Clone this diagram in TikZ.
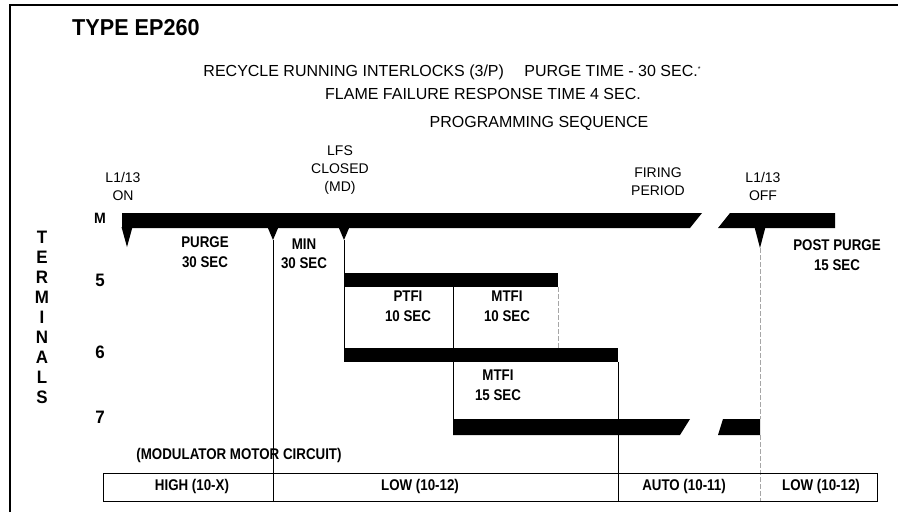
\documentclass[tikz,border=0pt]{standalone}
\usepackage{fontspec}
\setmainfont{Liberation Sans}
\newfontfamily\narrowfont{Liberation Sans}[FakeStretch=0.94]
\newfontfamily\condfont{Liberation Sans}[FakeStretch=0.86]
\usepackage{tikz}
\usetikzlibrary{calc}
\newcommand{\figurescale}{1pt}
\newcommand{\maketick}[2]{
	\fill ({#1-5.5},227) -- ({#1+5.5},227) -- (#1,#2) -- cycle;
}
\tikzset{
	txt/.style={inner sep=0pt, align=center, font=\fontsize{14}{18}\selectfont},
	head/.style={inner sep=0pt, font=\fontsize{16}{18}\selectfont},
	dur/.style={txt, font=\condfont\bfseries\fontsize{15.5}{19.5}\selectfont},
	big/.style={txt, font=\narrowfont\bfseries\fontsize{18}{20}\selectfont},
	thin/.style={line width=0.8pt},
	faint/.style={line width=0.7pt, gray!70, dash pattern=on 5pt off 2pt}
}

\begin{document}
\begin{tikzpicture}[x=\figurescale,y=-\figurescale]
	\useasboundingbox (0,0) rectangle (898,512);
	% frame
	\draw[line width=1.2pt] (10,512) -- (10,5) -- (898,5);

	% headings
	\node[anchor=west, inner sep=0pt, font=\narrowfont\bfseries\fontsize{23}{23}\selectfont] (title) at (72,28) {TYPE EP260};
	\node[head] (head1) at (452,72) {RECYCLE RUNNING INTERLOCKS (3/P)\quad\ PURGE TIME - 30 SEC.\raisebox{0.6ex}{\scriptsize *}};
	\node[head] (head2) at (483,94) {FLAME FAILURE RESPONSE TIME 4 SEC.};
	\node[head] (head3) at (539,123) {PROGRAMMING SEQUENCE};

	% event labels
	\node[txt] (on) at (123,186) {L1/13\\ON};
	\node[txt] (lfs) at (340,170) {LFS\\CLOSED\\(MD)};
	\node[txt] (firing) at (658,182) {FIRING\\PERIOD};
	\node[txt] (off) at (763,186) {L1/13\\OFF};

	% terminals
	\node[big] (terms) at (42,317) {T\\E\\R\\M\\I\\N\\A\\L\\S};
	\node[big, font=\narrowfont\bfseries\fontsize{15}{15}\selectfont] (tM) at (100,218) {M};
	\node[big] (t5) at (100,280) {5};
	\node[big] (t6) at (100,352) {6};
	\node[big] (t7) at (100,417) {7};

	% bars
	\fill (122,213) -- (702,213) -- (690,228) -- (122,228) -- cycle;
	\fill (730,213) -- (835,213) -- (835,228) -- (718,228) -- cycle;
	\fill (344,273) rectangle (558,287);
	\fill (344,348) rectangle (618,362);
	\fill (453,419) -- (690,419) -- (680,435) -- (453,435) -- cycle;
	\fill (723,419) -- (760,419) -- (760,435) -- (718,435) -- cycle;

	\maketick{127}{247}
	\maketick{273}{240}
	\maketick{344}{240}
	\maketick{760}{248}

	% guide lines
	\coordinate (A) at (273,240);
	\coordinate (A') at (273,501);
	\coordinate (B) at (344,240);
	\coordinate (B') at (344,348);
	\coordinate (C) at (453,287);
	\coordinate (C') at (453,419);
	\coordinate (D) at (558,287);
	\coordinate (D') at (558,348);
	\coordinate (E) at (618,362);
	\coordinate (E') at (618,501);
	\coordinate (F) at (760,248);
	\coordinate (F') at (760,419);
	\coordinate (G) at (760,435);
	\coordinate (G') at (760,501);
	\draw[thin] (A) -- (A');
	\draw[thin] (B) -- (B');
	\draw[thin] (C) -- (C');
	\draw[faint] (D) -- (D');
	\draw[thin] (E) -- (E');
	\draw[faint] (F) -- (F');
	\draw[faint] (G) -- (G');

	% interval labels
	\node[dur] (purge) at (205,252) {PURGE\\30 SEC};
	\node[dur] (min) at (304,254) {MIN\\30 SEC};
	\node[dur] (ptfi) at (408,306) {PTFI\\10 SEC};
	\node[dur] (mtfi1) at (507,306) {MTFI\\10 SEC};
	\node[dur] (mtfi2) at (498,385) {MTFI\\15 SEC};
	\node[dur] (post) at (837,255) {POST PURGE\\15 SEC};

	% modulator motor
	\node[dur] (mod) at (239,455) {(MODULATOR MOTOR CIRCUIT)};
	\draw[thin] (103,473) rectangle (877,501);
	\node[dur] (high) at (192,486) {HIGH (10-X)};
	\node[dur] (low1) at (420,486) {LOW (10-12)};
	\node[dur] (auto) at (684,486) {AUTO (10-11)};
	\node[dur] (low2) at (821,486) {LOW (10-12)};

\end{tikzpicture}
\end{document}
